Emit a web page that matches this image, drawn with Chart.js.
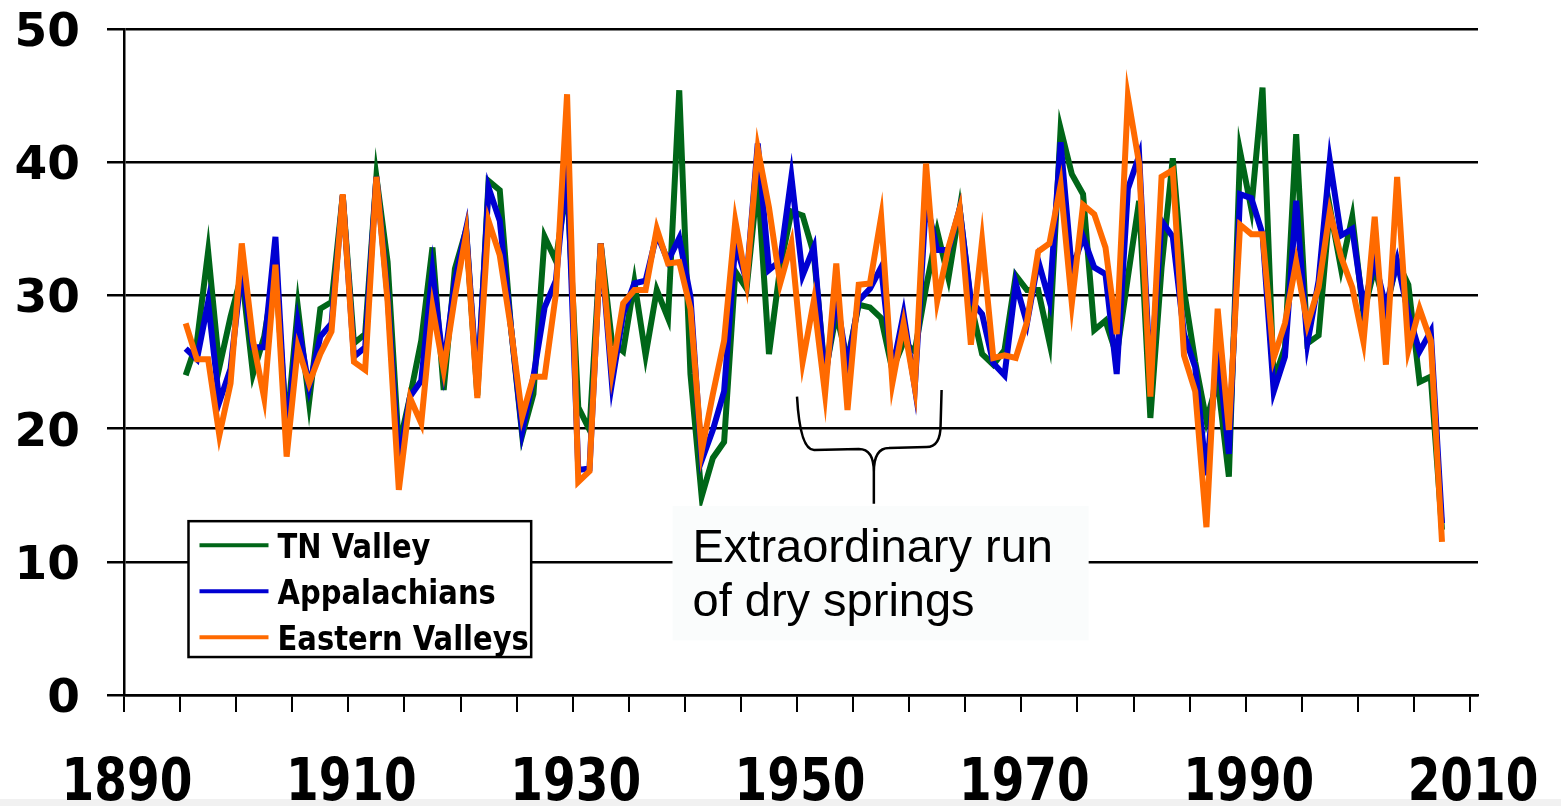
<!DOCTYPE html>
<html>
<head>
<meta charset="utf-8">
<script src="https://cdn.jsdelivr.net/npm/chart.js@4/dist/chart.umd.min.js"></script>
<style>
html,body{margin:0;padding:0;background:#fff;overflow:hidden}
#wrap{width:1561px;height:806px;position:relative}
</style>
</head>
<body>
<div id="wrap"><canvas id="c"></canvas></div>
<script>
// ---- data ----
const years = [1895,1896,1897,1898,1899,1900,1901,1902,1903,1904,1905,1906,1907,1908,1909,
1910,1911,1912,1913,1914,1915,1916,1917,1918,1919,1920,1921,1922,1923,1924,1925,1926,1927,1928,1929,
1930,1931,1932,1933,1934,1935,1936,1937,1938,1939,1940,1941,1942,1943,1944,1945,1946,1947,1948,1949,
1950,1951,1952,1953,1954,1955,1956,1957,1958,1959,1960,1961,1962,1963,1964,1965,1966,1967,1968,1969,
1970,1971,1972,1973,1974,1975,1976,1977,1978,1979,1980,1981,1982,1983,1984,1985,1986,1987,1988,1989,
1990,1991,1992,1993,1994,1995,1996,1997,1998,1999,2000,2001,2002,2003,2004,2005,2006,2007];

const tnValley = [24.0,26.5,33.3,24.6,28.4,31.6,24.1,26.9,32.1,19.9,29.1,22.0,29.0,29.5,37.5,
26.4,27.1,38.9,32.5,18.6,22.4,26.6,33.6,22.9,32.0,34.9,22.5,38.6,37.9,27.6,19.5,22.6,34.4,32.6,38.5,
21.6,19.9,33.9,26.5,25.8,31.0,25.5,30.4,28.3,45.4,24.1,14.9,17.8,19.0,31.8,30.5,38.6,25.6,32.1,36.3,
36.0,33.1,24.1,28.6,25.1,29.3,29.1,28.3,24.4,26.5,25.8,30.6,34.8,31.3,36.5,29.4,25.6,24.8,25.9,31.5,
30.4,30.4,26.5,42.5,39.1,37.6,27.4,28.1,25.5,31.4,37.1,20.8,32.1,40.3,30.4,25.0,20.6,23.6,16.4,40.8,
36.5,45.6,23.6,26.1,42.1,26.4,27.0,36.6,32.0,35.9,28.6,32.1,28.9,32.6,30.8,23.5,23.9,12.4];

const appalachians = [26.0,25.2,29.5,22.0,24.5,32.0,26.1,26.1,34.4,19.1,27.9,23.1,26.9,27.9,37.5,
25.4,26.1,38.9,30.0,17.4,22.4,23.6,31.8,24.6,31.1,35.0,23.0,38.1,35.6,27.6,19.8,23.9,29.1,31.1,40.0,
16.9,17.0,33.9,23.4,28.6,30.9,31.1,34.6,32.6,34.3,29.9,17.6,19.9,22.8,33.9,31.1,41.4,31.9,32.6,38.9,
31.5,33.6,23.6,29.9,24.6,29.6,30.5,32.1,24.4,28.6,23.1,37.1,33.4,33.4,36.5,29.6,28.6,24.9,24.0,30.9,
27.9,32.6,29.6,41.5,31.9,34.4,32.1,31.6,24.1,38.0,40.5,23.6,35.6,34.4,27.1,24.6,16.5,26.1,18.1,37.6,
37.3,34.6,22.8,25.4,37.1,26.4,31.1,40.1,34.5,35.0,29.1,32.6,29.1,32.6,28.6,25.8,27.3,12.9];

const easternValleys = [27.9,25.2,25.2,19.5,23.4,33.9,26.6,22.3,32.3,17.9,26.1,23.4,25.6,27.3,37.6,
25.0,24.4,38.9,29.5,15.4,22.3,20.4,29.1,24.4,29.9,34.6,22.3,35.6,33.0,27.5,20.9,23.9,23.9,30.1,45.1,
16.0,16.8,33.9,24.3,29.4,30.4,30.4,35.0,32.4,32.5,29.0,18.3,22.6,26.6,35.6,31.0,41.0,36.6,30.9,33.9,
25.0,29.6,22.6,32.4,21.4,30.8,30.9,35.9,23.4,27.9,23.1,39.9,29.6,33.6,36.5,26.3,34.1,25.3,25.5,25.3,
28.0,33.3,33.9,38.3,29.4,36.8,36.1,33.6,27.1,44.9,39.9,22.4,38.9,39.4,25.5,22.8,12.6,29.0,19.9,35.3,
34.6,34.6,25.3,27.9,32.5,27.8,30.6,36.3,32.9,30.6,26.5,35.9,24.8,38.9,25.9,29.0,26.6,11.5];

const seriesNames = ['TN Valley','Appalachians','Eastern Valleys'];
const seriesColors = ['#006618','#0000d2','#ff6a00'];
const yTickValues = [0,10,20,30,40,50];
const xTickValues = [1890,1895,1900,1905,1910,1915,1920,1925,1930,1935,1940,1945,1950,1955,
1960,1965,1970,1975,1980,1985,1990,1995,2000,2005,2010];
const xLabelYears = [1890,1910,1930,1950,1970,1990,2010];
const noteLines = ['Extraordinary run','of dry springs'];

// ---- helpers ----
// points sit in the middle of each year's category slot (between tick marks)
const toPts = arr => arr.map((v,i)=>({x:years[i] + 0.5, y:v}));
const seriesValues = [tnValley, appalachians, easternValleys];

function stretchedText(ctx, txt, x, y, sy, align){
  ctx.save();
  ctx.translate(x, y);
  ctx.scale(1, sy);
  ctx.textAlign = align;
  ctx.textBaseline = 'alphabetic';
  ctx.fillText(txt, 0, 0);
  ctx.restore();
}

const decorPlugin = {
  id:'decor',
  beforeDraw(chart){
    const ctx = chart.ctx;
    ctx.save();
    ctx.fillStyle = '#ffffff';
    ctx.fillRect(0,0,chart.width,chart.height);
    ctx.fillStyle = '#f1f1f1';
    ctx.fillRect(0,chart.height-7,chart.width,7);
    ctx.restore();
  },
  afterDatasetsDraw(chart){
    const ctx = chart.ctx;
    const xs = chart.scales.x, ys = chart.scales.y;
    const X = v=>xs.getPixelForValue(v), Y = v=>ys.getPixelForValue(v);
    ctx.save();
    // legend box
    const lx0 = X(1895.75), lx1 = X(1926.3), ly0 = Y(13.05), ly1 = Y(2.85);
    ctx.fillStyle = '#ffffff';
    ctx.fillRect(lx0,ly0,lx1-lx0,ly1-ly0);
    ctx.strokeStyle = '#000'; ctx.lineWidth = 2.5;
    ctx.strokeRect(lx0,ly0,lx1-lx0,ly1-ly0);
    ctx.font = 'bold 29px "DejaVu Sans"';
    chart.data.datasets.forEach((ds,i)=>{
      const ry = ly0 + 24 + i*46;
      ctx.strokeStyle = ds.borderColor; ctx.lineWidth = 4;
      ctx.beginPath(); ctx.moveTo(lx0+11, ry); ctx.lineTo(lx0+80, ry); ctx.stroke();
      ctx.fillStyle = '#000';
      stretchedText(ctx, ds.label, lx0+89, ry+12.5, 1.18, 'left');
    });
    // note box
    const bx0 = X(1938.9), bx1 = X(1976), by0 = Y(14.2), by1 = Y(4.1);
    ctx.fillStyle = '#fafcfc';
    ctx.fillRect(bx0,by0,bx1-bx0,by1-by0);
    ctx.fillStyle = '#000';
    ctx.font = '47px "Liberation Sans"';
    ctx.textBaseline = 'alphabetic';
    ctx.textAlign = 'left';
    ctx.fillText(noteLines[0], bx0+20, by0+56);
    ctx.fillText(noteLines[1], bx0+20, by0+110);
    // brace
    const L = X(1950), R = X(1962.8), M = X(1956.85);
    const top = Y(22.4), bar = Y(18.4), tip = Y(14.35);
    ctx.strokeStyle = '#000'; ctx.lineWidth = 2.5;
    ctx.beginPath();
    ctx.moveTo(L, top);
    ctx.quadraticCurveTo(L+3, bar, L+17, bar);
    ctx.lineTo(M-15, bar-1);
    ctx.quadraticCurveTo(M, bar-1, M, bar+22);
    ctx.lineTo(M, tip);
    ctx.moveTo(M, bar+22);
    ctx.quadraticCurveTo(M, bar-2, M+15, bar-2);
    ctx.lineTo(R-14, bar-3);
    ctx.quadraticCurveTo(R, bar-3, R, bar-25);
    ctx.lineTo(R+1, Y(22.9));
    ctx.stroke();
    ctx.restore();
  },
  afterDraw(chart){
    const ctx = chart.ctx;
    const xs = chart.scales.x, ys = chart.scales.y;
    ctx.save();
    ctx.fillStyle = '#000';
    ctx.font = 'bold 47px "DejaVu Sans"';
    ys.ticks.forEach(t=>{
      const py = ys.getPixelForValue(t.value);
      stretchedText(ctx, String(t.value), 80, py + 17, 1.0, 'right');
    });
    xs.ticks.forEach(t=>{
      if(!xLabelYears.includes(t.value)) return;
      const px = xs.getPixelForValue(t.value);
      stretchedText(ctx, String(t.value), px + 3, 800, 1.26, 'center');
    });
    ctx.restore();
  }
};

new Chart(document.getElementById('c'), {
  type:'line',
  data:{
    datasets: seriesNames.map((name,i)=>({
      label:name,
      data:toPts(seriesValues[i]),
      borderColor:seriesColors[i],
      backgroundColor:seriesColors[i],
      borderWidth:6,
      pointRadius:0,
      tension:0,
      fill:false,
      order:3-i
    }))
  },
  options:{
    responsive:true,
    maintainAspectRatio:false,
    animation:false,
    events:[],
    layout:{padding:{top:29,right:83,left:0,bottom:0}},
    plugins:{legend:{display:false},tooltip:{enabled:false}},
    scales:{
      x:{
        type:'linear', min:1890, max:2010.71,
        afterFit(s){ s.height = 111; },
        afterBuildTicks(s){ s.ticks = xTickValues.map(v=>({value:v})); },
        ticks:{ autoSkip:false, maxRotation:0, display:false },
        grid:{drawOnChartArea:false, drawTicks:true, tickLength:17, color:'#000', lineWidth:2},
        border:{display:true, color:'#000', width:2.5}
      },
      y:{
        min:0, max:50,
        afterFit(s){ s.width = 124; },
        afterBuildTicks(s){ s.ticks = yTickValues.map(v=>({value:v})); },
        ticks:{ display:false },
        grid:{color:'#000', lineWidth:2.5, tickLength:17, drawTicks:true},
        border:{display:true, color:'#000', width:2.5}
      }
    }
  },
  plugins:[decorPlugin]
});
</script>
</body>
</html>
